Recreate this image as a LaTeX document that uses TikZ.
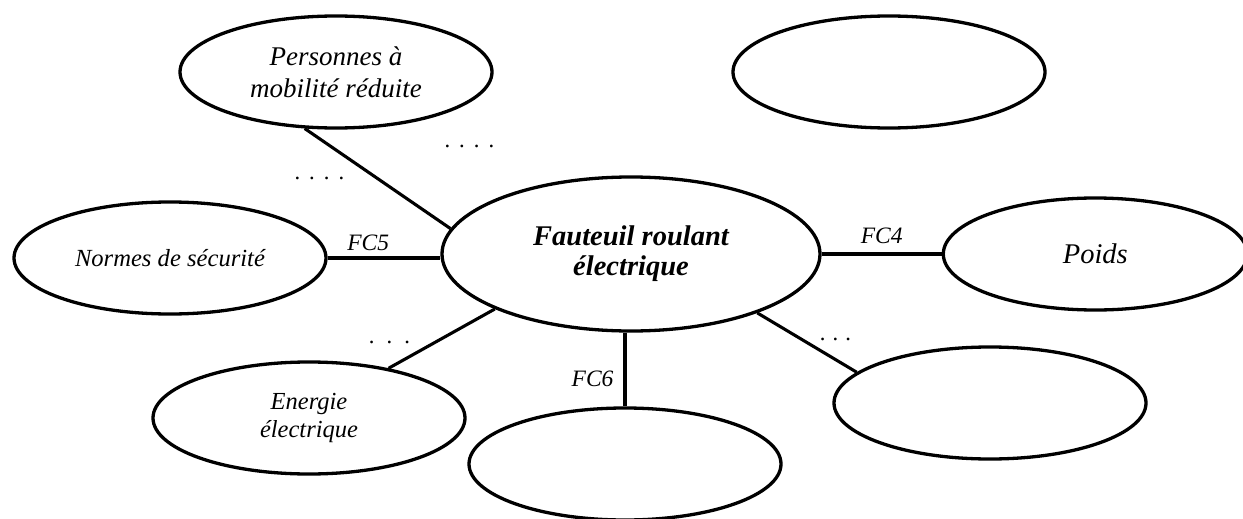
\documentclass[tikz,border=0pt]{standalone}
\usepackage{fontspec}
\setmainfont{Liberation Serif}
\usetikzlibrary{positioning,shapes.geometric}

\begin{document}
\begin{tikzpicture}[
  x=1pt, y=-1pt,
  bulle/.style={draw, ellipse, line width=3.3pt, minimum width=312pt,
                minimum height=112pt, inner sep=0pt, align=center},
  lien/.style={line width=3.1pt},
  lbl/.style={font=\fontsize{23.5}{28}\selectfont\itshape, inner sep=0pt},
  pts/.style={font=\fontsize{23}{28}\selectfont\itshape, inner sep=0pt}
]
\useasboundingbox (0,0) rectangle (1243,519);

\node[bulle, minimum width=378pt, minimum height=154pt,
      font=\fontsize{28.5}{30}\selectfont\bfseries\itshape] (fauteuil) at (631,254)
  {Fauteuil roulant\\ électrique};
\node[bulle, font=\fontsize{27}{32}\selectfont\itshape] (personnes) at (336,72)
  {Personnes à\\ mobilité réduite};
\node[bulle] (vide1) at (889,72) {};
\node[bulle, font=\fontsize{24.6}{30}\selectfont\itshape] (normes) at (170,258)
  {Normes de sécurité};
\node[bulle, minimum width=304pt, right=120pt of fauteuil,
      font=\fontsize{28.5}{32}\selectfont\itshape] (poids) {Poids};
\node[bulle, font=\fontsize{24.5}{28}\selectfont\itshape] (energie) at (309,418)
  {Energie\\ électrique};
\node[bulle] (vide2) at (625,464) {};
\node[bulle] (vide3) at (990,403) {};

\draw[lien] (personnes.241) -- (fauteuil.172);
\draw[lien] (normes.east) -- node[lbl, above=6pt, pos=0.36]{FC5} (normes.east -| fauteuil.west);
\draw[lien] (fauteuil.east) -- node[lbl, above=9pt]{FC4} (poids.west);
\draw[lien] (energie.32) -- (fauteuil.202);
\draw[lien] (vide2.north |- fauteuil.south) -- node[lbl, left=10pt, pos=0.62]{FC6} (vide2.north);
\draw[lien] (fauteuil.335) -- (vide3.167);

\node[pts] (pts1) at (470,146) {.\hspace{9pt}.\hspace{9pt}.\hspace{9pt}.};
\node[pts] (pts2) at (320,178) {.\hspace{9pt}.\hspace{9pt}.\hspace{9pt}.};
\node[pts] (pts3) at (390,342) {.\hspace{12pt}.\hspace{12pt}.};
\node[pts] (pts4) at (836,339) {.\hspace{7pt}.\hspace{7pt}.};
\end{tikzpicture}
\end{document}
